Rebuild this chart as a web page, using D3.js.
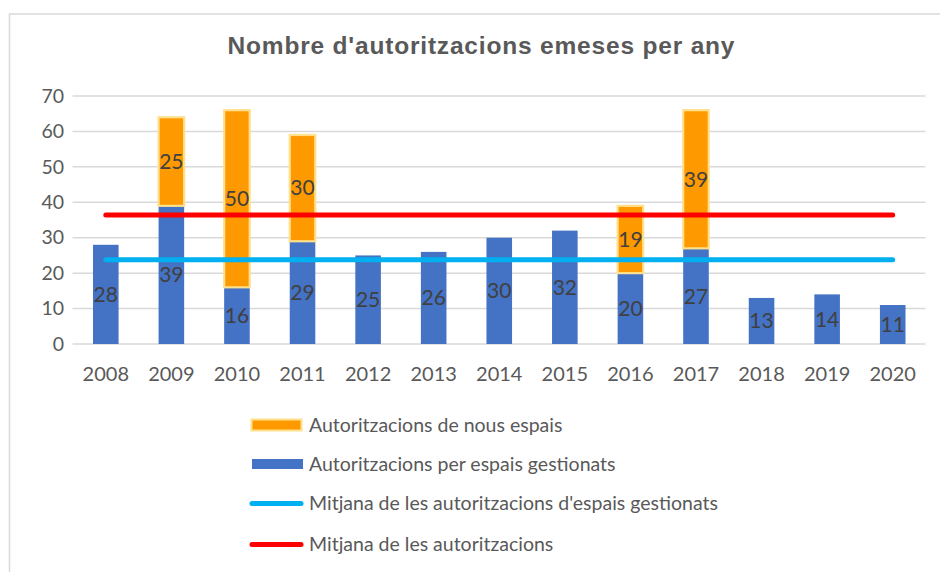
<!DOCTYPE html>
<html><head><meta charset="utf-8">
<script src="https://cdn.jsdelivr.net/npm/d3@7"></script>
<style>body{margin:0;background:#fff;overflow:hidden}</style>
</head><body>
<svg id="c" width="940" height="572"></svg>
<script>
const years = ["2008","2009","2010","2011","2012","2013","2014","2015","2016","2017","2018","2019","2020"];
const managed = [28,39,16,29,25,26,30,32,20,27,13,14,11];
const newSpaces = [null,25,50,30,null,null,null,null,19,39,null,null,null];
const avgManaged = [23.8,23.8,23.8,23.8,23.8,23.8,23.8,23.8,23.8,23.8,23.8,23.8,23.8];
const avgTotal = [36.4,36.4,36.4,36.4,36.4,36.4,36.4,36.4,36.4,36.4,36.4,36.4,36.4];
const yTicks = [0,10,20,30,40,50,60,70];
const title = "Nombre d'autoritzacions emeses per any";
const legendNames = ["Autoritzacions de nous espais","Autoritzacions per espais gestionats","Mitjana de les autoritzacions d'espais gestionats","Mitjana de les autoritzacions"];

const C = {orange:"#FF9900", orangeEdge:"#FFE08C", blue:"#4472C4", cyan:"#00B0F0", red:"#FF0000", grid:"#D9D9D9", text:"#595959", label:"#404040"};
const FONT = "Lato, 'Open Sans', sans-serif";

const svg = d3.select("#c");
// chart border
svg.append("rect").attr("x",9.5).attr("y",14).attr("width",1000).attr("height",1000)
  .attr("fill","#fff").attr("stroke","#D9D9D9").attr("stroke-width",1.5);

svg.append("text").attr("x",481).attr("y",54).attr("text-anchor","middle")
  .attr("font-family","'Liberation Sans', Arial, sans-serif").attr("font-weight","bold")
  .attr("font-size",24.5).attr("fill",C.text)
  .attr("textLength",507).attr("lengthAdjust","spacing").text(title);

const x = d3.scaleBand().domain(years).range([73,925.5]).paddingInner(0.61).paddingOuter(0.305);
const y = d3.scaleLinear().domain([0,70]).range([344,96]);

// gridlines
svg.append("g").selectAll("line").data(yTicks).join("line")
  .attr("x1",72.5).attr("x2",925.5).attr("y1",d=>y(d)).attr("y2",d=>y(d))
  .attr("stroke",C.grid).attr("stroke-width",1.5);

// y axis labels
const yAxis = svg.append("g").attr("transform","translate(64,0)")
  .call(d3.axisLeft(y).tickValues(yTicks).tickSize(0).tickPadding(0));
yAxis.select(".domain").remove();
yAxis.selectAll("text").attr("font-family",FONT).attr("font-size",19.5).attr("fill",C.text);

// x axis labels
const xAxis = svg.append("g").attr("transform","translate(0,344)")
  .call(d3.axisBottom(x).tickSize(0).tickPadding(23));
xAxis.select(".domain").remove();
xAxis.selectAll("text").attr("font-family",FONT).attr("font-size",20).attr("fill",C.text);

// bars
const data = years.map((yr,i)=>({yr, m:managed[i], n:newSpaces[i]}));
svg.append("g").selectAll("rect").data(data).join("rect")
  .attr("x",d=>x(d.yr)).attr("width",x.bandwidth())
  .attr("y",d=>y(d.m)).attr("height",d=>y(0)-y(d.m)).attr("fill",C.blue);
svg.append("g").selectAll("rect").data(data.filter(d=>d.n!=null)).join("rect")
  .attr("x",d=>x(d.yr)).attr("width",x.bandwidth())
  .attr("y",d=>y(d.m+d.n)).attr("height",d=>y(d.m)-y(d.m+d.n))
  .attr("fill",C.orange).attr("stroke",C.orangeEdge).attr("stroke-width",2.2);

// average lines
const line = d3.line().x((d,i)=>x(years[i])+x.bandwidth()/2).y(d=>y(d));
svg.append("path").datum(avgManaged).attr("d",line).attr("fill","none")
  .attr("stroke",C.cyan).attr("stroke-width",5).attr("stroke-linecap","round");
svg.append("path").datum(avgTotal).attr("d",line).attr("fill","none")
  .attr("stroke",C.red).attr("stroke-width",5).attr("stroke-linecap","round");

// data labels
const lg = svg.append("g").attr("font-family",FONT).attr("font-size",21).attr("fill",C.label).attr("text-anchor","middle");
lg.selectAll("text.m").data(data).join("text").attr("class","m")
  .attr("x",d=>x(d.yr)+x.bandwidth()/2).attr("y",d=>y(d.m/2)).attr("dy","0.35em").text(d=>d.m);
lg.selectAll("text.n").data(data.filter(d=>d.n!=null)).join("text").attr("class","n")
  .attr("x",d=>x(d.yr)+x.bandwidth()/2).attr("y",d=>y(d.m+d.n/2)).attr("dy","0.35em").text(d=>d.n);

// legend
const legY = [425,464,503.5,544.5];
const leg = svg.append("g");
leg.append("rect").attr("x",251.5).attr("y",legY[0]-5.5).attr("width",50).attr("height",11)
  .attr("fill",C.orange).attr("stroke",C.orangeEdge).attr("stroke-width",2);
leg.append("rect").attr("x",252).attr("y",legY[1]-5).attr("width",51).attr("height",10).attr("fill",C.blue);
leg.append("line").attr("x1",252).attr("x2",301).attr("y1",legY[2]).attr("y2",legY[2])
  .attr("stroke",C.cyan).attr("stroke-width",5).attr("stroke-linecap","round");
leg.append("line").attr("x1",252).attr("x2",301).attr("y1",legY[3]).attr("y2",legY[3])
  .attr("stroke",C.red).attr("stroke-width",5).attr("stroke-linecap","round");
leg.selectAll("text").data(legendNames).join("text")
  .attr("x",309).attr("y",(d,i)=>legY[i]).attr("dy","0.35em")
  .attr("font-family",FONT).attr("font-size",19.5).attr("fill",C.text).text(d=>d);
</script>
</body></html>
